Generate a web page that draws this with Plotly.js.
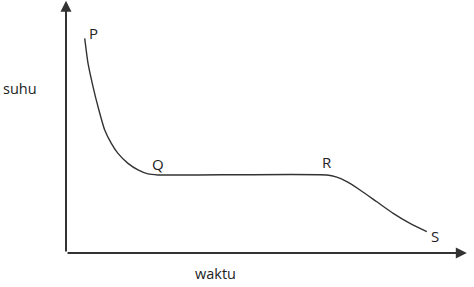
<!DOCTYPE html>
<html>
<head>
<meta charset="utf-8">
<script src="https://cdn.plot.ly/plotly-3.0.1.min.js"></script>
<style>html,body{margin:0;padding:0;background:#fff;}#chart{width:474px;height:287px;}</style>
</head>
<body>
<div id="chart"></div>
<script>
// waktu (time) and suhu (temperature), arbitrary units
const waktu = [0.468, 0.55, 0.675, 0.8, 0.968, 1.133, 1.3, 1.55, 1.8, 2.05, 2.3, 6.52, 6.77, 7.02, 7.35, 7.77, 8.18, 8.6, 9.02];
const suhu  = [85.5, 75.6, 66.3, 58.3, 49.0, 43.7, 39.7, 35.7, 33.1, 31.5, 31.1, 31.1, 30.2, 28.4, 25.1, 20.4, 15.8, 11.8, 8.5];
const pointNames = ["P", "Q", "R", "S"];
const pointX = [0.68, 2.3, 6.53, 9.22];
const pointY = [87.6, 35.3, 36.4, 6.6];
const xTitle = "waktu";
const yTitle = "suhu";

const font = {family: "Open Sans, Noto Sans, sans-serif", size: 14.5, color: "#222"};

const annotations = pointNames.map((t, i) => ({
  x: pointX[i], y: pointY[i], xref: "x", yref: "y", text: t, showarrow: false,
  font: {family: font.family, size: 15, color: "#222"}
}));
// axis arrows
annotations.push({x: 10.02, y: 0, ax: 0, ay: 0, xref: "x", yref: "y", axref: "x", ayref: "y",
  text: "", showarrow: true, arrowhead: 2, arrowsize: 1.1, arrowwidth: 2, arrowcolor: "#333"});
annotations.push({x: 0, y: 100.5, ax: 0, ay: 0, xref: "x", yref: "y", axref: "x", ayref: "y",
  text: "", showarrow: true, arrowhead: 2, arrowsize: 1.1, arrowwidth: 2, arrowcolor: "#333"});
annotations.push({x: 0.3725, y: -0.08, xref: "paper", yref: "paper", xanchor: "center", yanchor: "middle",
  text: xTitle, showarrow: false, font: font});
annotations.push({x: -0.115, y: 0.657, xref: "paper", yref: "paper", xanchor: "center", yanchor: "middle",
  text: yTitle, showarrow: false, font: font});

const trace = {
  x: waktu, y: suhu, mode: "lines", type: "scatter",
  line: {color: "#333", width: 1.4, shape: "spline", smoothing: 0.6},
  hoverinfo: "skip"
};

const axisBase = {showgrid: false, zeroline: false, showline: false, showticklabels: false, ticks: "", fixedrange: true};

Plotly.newPlot("chart", [trace], {
  width: 474, height: 287,
  margin: {l: 66, r: 8, t: 2, b: 34},
  paper_bgcolor: "#fff", plot_bgcolor: "#fff",
  showlegend: false,
  xaxis: Object.assign({range: [0, 10]}, axisBase),
  yaxis: Object.assign({range: [0, 100]}, axisBase),
  annotations: annotations
}, {displayModeBar: false, staticPlot: true});
</script>
</body>
</html>
